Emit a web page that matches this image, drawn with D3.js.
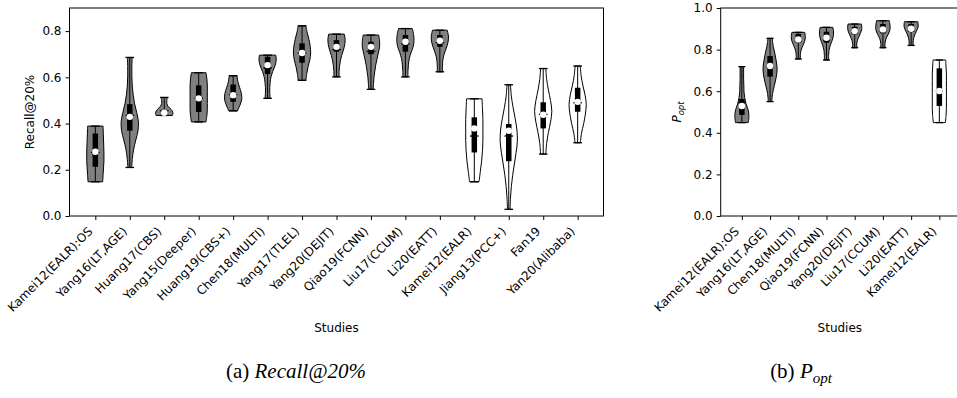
<!DOCTYPE html>
<html>
<head>
<meta charset="utf-8">
<script src="https://cdn.jsdelivr.net/npm/d3@7"></script>
<style>
body { margin: 0; background: #fff; }
text { font-family: "DejaVu Sans", sans-serif; }
</style>
</head>
<body>
<div id="chart"></div>
<script>
// ---- (a) Recall@20% ----
var studiesA = ["Kamei12(EALR):OS", "Yang16(LT,AGE)", "Huang17(CBS)", "Yang15(Deeper)", "Huang19(CBS+)",
  "Chen18(MULTI)", "Yang17(TLEL)", "Yang20(DEJIT)", "Qiao19(FCNN)", "Liu17(CCUM)", "Li20(EATT)",
  "Kamei12(EALR)", "Jiang13(PCC+)", "Fan19", "Yan20(Alibaba)"];
var minA  = [0.148, 0.21, 0.435, 0.407, 0.455, 0.509, 0.587, 0.602, 0.548, 0.602, 0.624, 0.148, 0.029, 0.268, 0.317];
var maxA  = [0.389, 0.686, 0.513, 0.62, 0.607, 0.696, 0.823, 0.787, 0.783, 0.811, 0.804, 0.507, 0.568, 0.638, 0.649];
var q1A   = [0.213, 0.369, 0.44, 0.45, 0.494, 0.614, 0.663, 0.711, 0.70, 0.711, 0.732, 0.275, 0.237, 0.379, 0.451];
var q3A   = [0.357, 0.484, 0.46, 0.565, 0.569, 0.689, 0.747, 0.761, 0.754, 0.783, 0.783, 0.427, 0.398, 0.492, 0.555];
var medA  = [0.278, 0.429, 0.447, 0.509, 0.523, 0.653, 0.705, 0.732, 0.732, 0.754, 0.758, 0.379, 0.369, 0.438, 0.494];
var meanA = [0.275, 0.435, 0.455, 0.51, 0.525, 0.64, 0.705, 0.72, 0.712, 0.745, 0.75, 0.346, 0.346, 0.44, 0.49];
// relative violin widths, read bottom (min) to top (max)
var shapeA = [
  [0.85, 0.9, 0.95, 1, 1, 0.98, 0.95, 0.92, 0.9],
  [0.22, 0.3, 0.45, 0.7, 0.95, 1.0, 0.8, 0.55, 0.38, 0.28, 0.24, 0.24, 0.28],
  [0.95, 1.0, 0.8, 0.45, 0.3, 0.3, 0.35],
  [0.85, 0.95, 1, 1, 1, 1, 1, 0.95, 0.85],
  [0.5, 0.8, 1.0, 0.95, 0.75, 0.55, 0.45],
  [0.3, 0.25, 0.25, 0.3, 0.4, 0.6, 0.85, 1.0, 0.95],
  [0.45, 0.55, 0.7, 0.9, 1.0, 0.95, 0.8, 0.6, 0.45],
  [0.3, 0.3, 0.35, 0.45, 0.6, 0.8, 0.95, 1.0, 0.9],
  [0.25, 0.3, 0.35, 0.45, 0.55, 0.7, 0.85, 1.0, 1.0, 0.9],
  [0.3, 0.3, 0.35, 0.45, 0.65, 0.9, 1.0, 0.95, 0.8],
  [0.3, 0.3, 0.35, 0.5, 0.75, 0.95, 1.0, 0.85],
  [0.55, 0.7, 0.85, 0.95, 1.0, 1.0, 1.0, 0.95, 0.9],
  [0.15, 0.2, 0.3, 0.45, 0.65, 0.85, 1.0, 0.95, 0.75, 0.5, 0.3, 0.2],
  [0.3, 0.4, 0.6, 0.85, 1.0, 0.85, 0.6, 0.4, 0.3],
  [0.3, 0.45, 0.7, 0.9, 1.0, 0.85, 0.6, 0.4, 0.3]
];
var greyA = 11;   // first 11 studies drawn grey, rest white
var yTicksA = [0, 0.2, 0.4, 0.6, 0.8];

// ---- (b) Popt ----
var studiesB = ["Kamei12(EALR):OS", "Yang16(LT,AGE)", "Chen18(MULTI)", "Qiao19(FCNN)", "Yang20(DEJIT)",
  "Liu17(CCUM)", "Li20(EATT)", "Kamei12(EALR)"];
var minB  = [0.449, 0.55, 0.755, 0.75, 0.809, 0.809, 0.82, 0.449];
var maxB  = [0.718, 0.854, 0.883, 0.907, 0.923, 0.939, 0.934, 0.75];
var q1B   = [0.486, 0.67, 0.833, 0.833, 0.873, 0.878, 0.886, 0.529];
var q3B   = [0.5625, 0.769, 0.875, 0.886, 0.91, 0.923, 0.923, 0.71];
var medB  = [0.529, 0.721, 0.849, 0.857, 0.889, 0.897, 0.9, 0.601];
var meanB = [0.545, 0.715, 0.84, 0.845, 0.88, 0.89, 0.89, 0.6];
var shapeB = [
  [0.9, 1.0, 0.9, 0.6, 0.4, 0.3, 0.28, 0.25, 0.25, 0.25],
  [0.25, 0.35, 0.6, 0.85, 1.0, 0.9, 0.7, 0.45, 0.3],
  [0.3, 0.3, 0.4, 0.65, 0.9, 1.0, 0.9],
  [0.3, 0.3, 0.35, 0.5, 0.75, 0.95, 1.0, 0.9],
  [0.3, 0.3, 0.5, 0.8, 1.0, 0.95],
  [0.3, 0.3, 0.45, 0.75, 1.0, 1.0, 0.9],
  [0.3, 0.3, 0.45, 0.75, 1.0, 0.95],
  [0.85, 0.95, 1, 1, 1, 1, 1, 1, 0.95, 0.9]
];
var greyB = 7;
var yTicksB = [0, 0.2, 0.4, 0.6, 0.8, 1.0];

var width = 957;
var height = 398;
var top0 = 8;
var bottom0 = 216;

var svg = d3.select("#chart")
  .append("svg")
  .attr("width", width)
  .attr("height", height);

function panel(cfg) {
  var n = cfg.studies.length;
  var x = d3.scaleLinear().domain([0.25, n + 0.75]).range([cfg.left, cfg.right]);
  var y = d3.scaleLinear().domain([0, cfg.yMax]).range([bottom0, top0]);
  var g = svg.append("g");
  var hw = x(0.25) - x(0);
  var cap = x(0.125) - x(0);

  cfg.studies.forEach(function(name, i) {
    var pos = x(i + 1);
    var lo = cfg.min[i], hi = cfg.max[i], prof = cfg.shape[i];
    var pts = prof.map(function(p, j) {
      return { v: lo + (hi - lo) * j / (prof.length - 1), w: p };
    });
    var area = d3.area()
      .curve(d3.curveCatmullRom.alpha(0.5))
      .y(function(d) { return y(d.v); })
      .x0(function(d) { return pos - d.w * hw; })
      .x1(function(d) { return pos + d.w * hw; });

    g.append("path")
      .attr("d", area(pts))
      .attr("fill", i < cfg.grey ? "#808080" : "#ffffff")
      .attr("stroke", "#000")
      .attr("stroke-width", 1);

    // min-max bar and caps
    g.append("line")
      .attr("x1", pos).attr("x2", pos)
      .attr("y1", y(lo)).attr("y2", y(hi))
      .attr("stroke", "#000").attr("stroke-width", 1);
    [lo, hi, cfg.mean[i]].forEach(function(v) {
      g.append("line")
        .attr("x1", pos - cap).attr("x2", pos + cap)
        .attr("y1", y(v)).attr("y2", y(v))
        .attr("stroke", "#000").attr("stroke-width", 1.3);
    });

    // interquartile box
    g.append("line")
      .attr("x1", pos).attr("x2", pos)
      .attr("y1", y(cfg.q1[i])).attr("y2", y(cfg.q3[i]))
      .attr("stroke", "#000").attr("stroke-width", 5.5);

    g.append("circle")
      .attr("cx", pos).attr("cy", y(cfg.med[i]))
      .attr("r", 3.2)
      .attr("fill", "#fff");
  });

  // frame
  g.append("rect")
    .attr("x", cfg.left).attr("y", top0)
    .attr("width", cfg.right - cfg.left).attr("height", bottom0 - top0)
    .attr("fill", "none").attr("stroke", "#000").attr("stroke-width", 1);

  var yAxis = d3.axisLeft(y).tickValues(cfg.yTicks).tickFormat(d3.format(".1f")).tickSize(4).tickPadding(4);
  var ya = g.append("g").attr("transform", "translate(" + cfg.left + ",0)").call(yAxis);
  ya.select(".domain").remove();
  ya.selectAll("text").attr("font-size", 12).attr("fill", "#000").attr("font-family", "DejaVu Sans");

  var xAxis = d3.axisBottom(x).tickValues(d3.range(1, n + 1)).tickFormat("").tickSize(4);
  var xa = g.append("g").attr("transform", "translate(0," + bottom0 + ")").call(xAxis);
  xa.select(".domain").remove();

  // rotated study names, end of text at the tick
  g.selectAll("text.study")
    .data(cfg.studies)
    .enter()
    .append("text")
    .attr("class", "study")
    .attr("font-size", 12)
    .attr("text-anchor", "end")
    .attr("transform", function(d, i) {
      return "translate(" + (x(i + 1) - 2) + "," + (bottom0 + 16) + ") rotate(-45)";
    })
    .text(function(d) { return d; });

  g.append("text")
    .attr("x", (cfg.left + Math.min(cfg.right, width)) / 2 + cfg.xlabShift)
    .attr("y", 332)
    .attr("text-anchor", "middle")
    .attr("font-size", 12)
    .text("Studies");
  return g;
}

panel({ studies: studiesA, min: minA, max: maxA, q1: q1A, q3: q3A, med: medA, mean: meanA,
  shape: shapeA, grey: greyA, yTicks: yTicksA, yMax: 0.9, left: 69.5, right: 603.5, xlabShift: 0 });
panel({ studies: studiesB, min: minB, max: maxB, q1: q1B, q3: q3B, med: medB, mean: meanB,
  shape: shapeB, grey: greyB, yTicks: yTicksB, yMax: 1.0, left: 720.7, right: 960.5, xlabShift: 1 });

// y labels
svg.append("text")
  .attr("transform", "translate(34,112) rotate(-90)")
  .attr("text-anchor", "middle")
  .attr("font-size", 12)
  .text("Recall@20%");

var pl = svg.append("text")
  .attr("transform", "translate(681,112) rotate(-90)")
  .attr("text-anchor", "middle")
  .attr("font-size", 12);
pl.append("tspan").attr("font-style", "italic").text("P");
pl.append("tspan").attr("font-style", "italic").attr("font-size", 8.5).attr("dy", 3).text("opt");

// captions
var capA = svg.append("text")
  .attr("x", 296).attr("y", 378)
  .attr("text-anchor", "middle")
  .attr("font-size", 21)
  .style("font-family", "'Liberation Serif', serif");
capA.append("tspan").text("(a) ");
capA.append("tspan").attr("font-style", "italic").text("Recall@20%");

var capB = svg.append("text")
  .attr("x", 801).attr("y", 378)
  .attr("text-anchor", "middle")
  .attr("font-size", 21)
  .style("font-family", "'Liberation Serif', serif");
capB.append("tspan").text("(b) ");
capB.append("tspan").attr("font-style", "italic").text("P");
capB.append("tspan").attr("font-style", "italic").attr("font-size", 15).attr("dy", 5).text("opt");
</script>
</body>
</html>
